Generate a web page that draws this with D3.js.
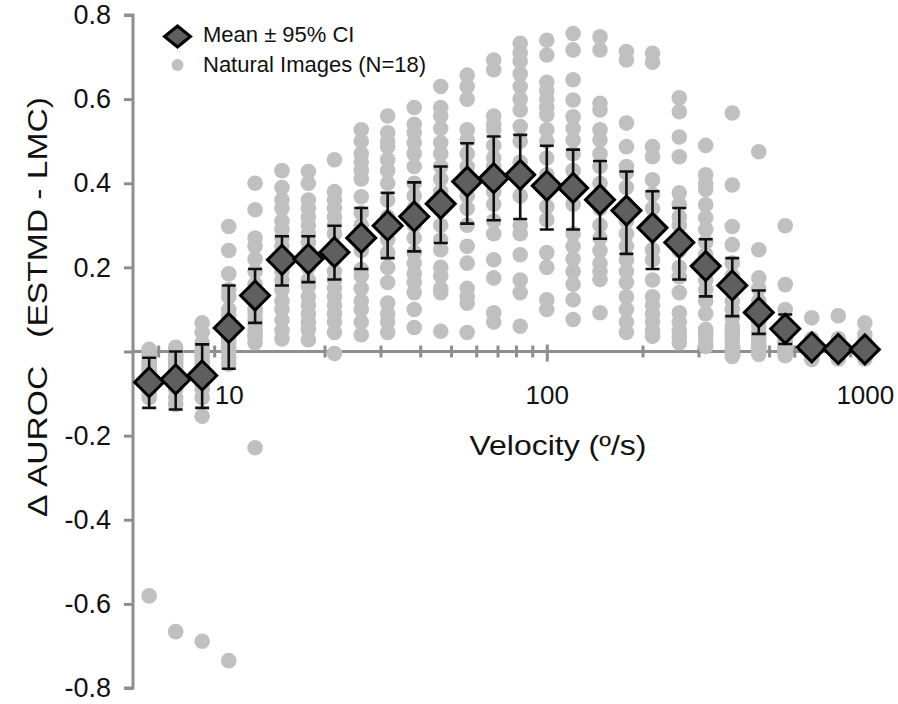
<!DOCTYPE html>
<html>
<head>
<meta charset="utf-8">
<script src="https://cdn.jsdelivr.net/npm/d3@7"></script>
<style>
  body { margin: 0; background: #fff; }
  svg { display: block; font-family: "Liberation Sans", Arial, sans-serif; }
</style>
</head>
<body>
<svg id="chart" width="898" height="704"></svg>
<script>
// velocities (deg/s), 12 per decade
var velocity = [5.62, 6.81, 8.25, 10, 12.1, 14.7, 17.8, 21.5, 26.1, 31.6, 38.3, 46.4, 56.2, 68.1,
  82.5, 100, 121, 147, 178, 215, 261, 316, 383, 464, 562, 681, 825, 1000];

// mean and 95% CI bounds
var meanVals = [-0.073, -0.066, -0.057, 0.056, 0.133, 0.218, 0.220, 0.236, 0.270, 0.299, 0.321, 0.351, 0.404, 0.412,
  0.420, 0.394, 0.389, 0.361, 0.335, 0.294, 0.259, 0.203, 0.157, 0.093, 0.054, 0.010, 0.006, 0.005];
var ciLow = [-0.134, -0.138, -0.134, -0.041, 0.068, 0.157, 0.165, 0.171, 0.196, 0.222, 0.238, 0.258, 0.304, 0.312,
  0.315, 0.290, 0.290, 0.268, 0.232, 0.196, 0.171, 0.131, 0.084, 0.042, 0.018, 0.000, -0.002, -0.002];
var ciHigh = [-0.015, 0.000, 0.017, 0.157, 0.196, 0.274, 0.274, 0.299, 0.341, 0.377, 0.402, 0.440, 0.495, 0.511,
  0.515, 0.489, 0.480, 0.453, 0.428, 0.381, 0.341, 0.267, 0.222, 0.145, 0.088, 0.020, 0.014, 0.012];

// one row per velocity, 18 natural images each
var naturalImages = [
  [0.005, -0.005, -0.01, -0.02, -0.025, -0.03, -0.035, -0.04, -0.045, -0.05, -0.055, -0.06, -0.07, -0.08, -0.09, -0.10, -0.11, -0.581],
  [0.01, 0.0, -0.005, -0.01, -0.015, -0.02, -0.025, -0.03, -0.035, -0.04, -0.05, -0.06, -0.07, -0.08, -0.09, -0.11, -0.126, -0.666],
  [0.068, 0.045, 0.021, 0.01, 0.0, -0.005, -0.01, -0.02, -0.03, -0.04, -0.05, -0.06, -0.07, -0.08, -0.09, -0.11, -0.154, -0.689],
  [0.297, 0.240, 0.185, 0.147, 0.13, 0.10, 0.085, 0.07, 0.06, 0.05, 0.04, 0.03, 0.02, 0.01, 0.0, -0.015, -0.03, -0.735],
  [0.40, 0.337, 0.27, 0.25, 0.22, 0.19, 0.16, 0.14, 0.12, 0.10, 0.09, 0.075, 0.064, 0.05, 0.04, 0.035, 0.021, -0.229],
  [0.43, 0.39, 0.36, 0.34, 0.31, 0.29, 0.27, 0.25, 0.23, 0.21, 0.19, 0.17, 0.147, 0.12, 0.10, 0.075, 0.05, 0.03],
  [0.428, 0.40, 0.36, 0.34, 0.32, 0.30, 0.28, 0.26, 0.24, 0.20, 0.17, 0.155, 0.13, 0.11, 0.09, 0.07, 0.052, 0.028],
  [0.456, 0.38, 0.36, 0.34, 0.32, 0.30, 0.28, 0.25, 0.22, 0.19, 0.17, 0.15, 0.13, 0.11, 0.09, 0.07, 0.045, -0.005],
  [0.527, 0.50, 0.47, 0.45, 0.43, 0.41, 0.368, 0.33, 0.30, 0.27, 0.24, 0.195, 0.18, 0.15, 0.12, 0.10, 0.07, 0.04],
  [0.56, 0.52, 0.50, 0.487, 0.456, 0.43, 0.40, 0.36, 0.32, 0.29, 0.266, 0.235, 0.20, 0.164, 0.115, 0.09, 0.07, 0.045],
  [0.58, 0.54, 0.52, 0.496, 0.47, 0.44, 0.40, 0.37, 0.34, 0.30, 0.27, 0.235, 0.21, 0.185, 0.164, 0.14, 0.10, 0.057],
  [0.63, 0.58, 0.56, 0.53, 0.496, 0.47, 0.44, 0.41, 0.38, 0.34, 0.30, 0.265, 0.242, 0.20, 0.18, 0.15, 0.14, 0.048],
  [0.657, 0.63, 0.60, 0.527, 0.503, 0.47, 0.44, 0.42, 0.40, 0.37, 0.34, 0.30, 0.25, 0.21, 0.15, 0.13, 0.115, 0.045],
  [0.693, 0.67, 0.56, 0.54, 0.527, 0.49, 0.46, 0.44, 0.42, 0.40, 0.38, 0.35, 0.31, 0.28, 0.218, 0.175, 0.092, 0.07],
  [0.733, 0.71, 0.69, 0.66, 0.63, 0.60, 0.574, 0.535, 0.50, 0.45, 0.41, 0.37, 0.30, 0.28, 0.23, 0.17, 0.14, 0.06],
  [0.74, 0.705, 0.64, 0.62, 0.60, 0.58, 0.563, 0.527, 0.50, 0.46, 0.42, 0.39, 0.344, 0.313, 0.235, 0.20, 0.123, 0.10],
  [0.756, 0.717, 0.646, 0.598, 0.558, 0.53, 0.503, 0.47, 0.43, 0.39, 0.35, 0.28, 0.25, 0.22, 0.19, 0.16, 0.123, 0.076],
  [0.748, 0.717, 0.59, 0.574, 0.527, 0.503, 0.47, 0.44, 0.40, 0.37, 0.34, 0.30, 0.27, 0.24, 0.21, 0.19, 0.171, 0.092],
  [0.713, 0.693, 0.543, 0.487, 0.44, 0.425, 0.39, 0.35, 0.31, 0.28, 0.25, 0.218, 0.19, 0.164, 0.13, 0.10, 0.07, 0.045],
  [0.709, 0.688, 0.487, 0.463, 0.408, 0.373, 0.34, 0.31, 0.28, 0.242, 0.218, 0.17, 0.13, 0.11, 0.09, 0.07, 0.05, 0.036],
  [0.603, 0.57, 0.51, 0.463, 0.377, 0.35, 0.32, 0.30, 0.27, 0.24, 0.20, 0.178, 0.14, 0.092, 0.07, 0.05, 0.035, 0.021],
  [0.49, 0.42, 0.40, 0.385, 0.349, 0.318, 0.29, 0.26, 0.23, 0.20, 0.17, 0.147, 0.12, 0.09, 0.052, 0.04, 0.025, 0.012],
  [0.567, 0.396, 0.297, 0.254, 0.21, 0.18, 0.15, 0.12, 0.10, 0.08, 0.06, 0.05, 0.04, 0.03, 0.02, 0.01, 0.0, -0.012],
  [0.475, 0.242, 0.175, 0.15, 0.12, 0.10, 0.08, 0.07, 0.06, 0.045, 0.04, 0.03, 0.02, 0.015, 0.01, 0.005, 0.0, -0.007],
  [0.299, 0.159, 0.10, 0.07, 0.05, 0.04, 0.03, 0.025, 0.02, 0.015, 0.01, 0.01, 0.005, 0.005, 0.0, 0.0, -0.005, -0.01],
  [0.08, 0.03, 0.02, 0.015, 0.01, 0.01, 0.005, 0.005, 0.005, 0.0, 0.0, 0.0, -0.005, -0.005, -0.01, -0.01, -0.015, -0.019],
  [0.085, 0.03, 0.02, 0.015, 0.01, 0.01, 0.005, 0.005, 0.0, 0.0, 0.0, -0.005, -0.005, -0.01, -0.01, -0.012, -0.015, -0.018],
  [0.068, 0.04, 0.025, 0.015, 0.01, 0.01, 0.005, 0.005, 0.0, 0.0, 0.0, -0.005, -0.005, -0.01, -0.01, -0.012, -0.015, -0.018]
];

var yTicks = [-0.8, -0.6, -0.4, -0.2, 0, 0.2, 0.4, 0.6, 0.8];
var xMajorTicks = [10, 100, 1000];
var xMinorTicks = [6, 7, 8, 9, 20, 30, 40, 50, 60, 70, 80, 90, 200, 300, 400, 500, 600, 700, 800, 900];

var axisColor = "#8e8e8e";
var svg = d3.select("#chart");

var xScale = d3.scaleLog().domain([5, 1100]).range([133, 878]);
var yScale = d3.scaleLinear().domain([-0.8, 0.8]).range([688, 15]);
var y0 = yScale(0);

// y axis
var gY = svg.append("g")
  .attr("transform", "translate(" + xScale(5) + ",0)")
  .call(d3.axisLeft(yScale).tickValues(yTicks).tickSize(9).tickPadding(13)
    .tickFormat(function (d) { return d === 0 ? "" : d.toFixed(1); }));
gY.select(".domain").attr("stroke", axisColor).attr("stroke-width", 3)
  .attr("d", "M-9," + yScale(0.8) + "H0V" + yScale(-0.8) + "H-9");
gY.selectAll(".tick line").attr("stroke", axisColor).attr("stroke-width", 3);
gY.selectAll(".tick text").attr("fill", "#111").style("font-size", "27px");

// x axis through zero
var gXminor = svg.append("g")
  .attr("transform", "translate(0," + y0 + ")")
  .call(d3.axisBottom(xScale).tickValues(xMinorTicks).tickSize(6).tickFormat(""));
gXminor.select(".domain").remove();
gXminor.selectAll(".tick line").attr("y1", -6).attr("stroke", axisColor).attr("stroke-width", 3);

var gX = svg.append("g")
  .attr("transform", "translate(0," + y0 + ")")
  .call(d3.axisBottom(xScale).tickValues(xMajorTicks).tickSize(10)
    .tickFormat(function (d) { return String(d); }));
gX.select(".domain").attr("stroke", axisColor).attr("stroke-width", 3)
  .attr("d", "M" + xScale(5) + ",0H" + xScale(1100));
gX.selectAll(".tick line").attr("y1", -7).attr("stroke", axisColor).attr("stroke-width", 3);
gX.selectAll(".tick text").attr("y", 34).attr("fill", "#111").style("font-size", "26px");

// individual images
var dots = [];
naturalImages.forEach(function (row, i) {
  row.forEach(function (v) { dots.push({ x: velocity[i], y: v }); });
});
svg.append("g").selectAll("circle").data(dots).enter().append("circle")
  .attr("cx", function (d) { return xScale(d.x); })
  .attr("cy", function (d) { return yScale(d.y); })
  .attr("r", 7.8)
  .attr("fill", "#c0c0c0");

// error bars
var errG = svg.append("g").attr("stroke", "#111").attr("stroke-width", 2.6).attr("fill", "none");
velocity.forEach(function (v, i) {
  var x = xScale(v);
  errG.append("path")
    .attr("d", "M" + (x - 7) + "," + yScale(ciHigh[i]) + "H" + (x + 7) +
      "M" + x + "," + yScale(ciHigh[i]) + "V" + yScale(ciLow[i]) +
      "M" + (x - 7) + "," + yScale(ciLow[i]) + "H" + (x + 7));
});

// mean diamonds
function diamond(w, h) {
  return "M0," + (-h) + "L" + w + ",0L0," + h + "L" + (-w) + ",0Z";
}
svg.append("g").selectAll("path").data(meanVals).enter().append("path")
  .attr("transform", function (d, i) { return "translate(" + xScale(velocity[i]) + "," + yScale(d) + ")"; })
  .attr("d", diamond(14.5, 14.5))
  .attr("fill", "#5f5f5f")
  .attr("stroke", "#000")
  .attr("stroke-width", 3)
  .attr("stroke-linejoin", "miter");

// legend
var legend = svg.append("g");
legend.append("path")
  .attr("transform", "translate(177.5,36.5)")
  .attr("d", diamond(13, 10.5))
  .attr("fill", "#5f5f5f").attr("stroke", "#000").attr("stroke-width", 3);
legend.append("text").attr("x", 203).attr("y", 42).style("font-size", "22px").attr("fill", "#111")
  .text("Mean \u00b1 95% CI");
legend.append("circle").attr("cx", 177.5).attr("cy", 65).attr("r", 6).attr("fill", "#c0c0c0");
legend.append("text").attr("x", 203).attr("y", 72).style("font-size", "22px").attr("fill", "#111")
  .text("Natural Images (N=18)");

// axis titles
svg.append("text")
  .attr("x", 558).attr("y", 455)
  .attr("text-anchor", "middle")
  .attr("textLength", 177)
  .attr("lengthAdjust", "spacingAndGlyphs")
  .style("font-size", "27px").attr("fill", "#111")
  .text("Velocity (\u00ba/s)");

svg.append("text")
  .attr("transform", "translate(47,307) rotate(-90)")
  .attr("text-anchor", "middle")
  .attr("textLength", 420)
  .attr("lengthAdjust", "spacingAndGlyphs")
  .attr("xml:space", "preserve")
  .style("font-size", "28px").attr("fill", "#111")
  .text("\u0394 AUROC   (ESTMD - LMC)");
</script>
</body>
</html>
